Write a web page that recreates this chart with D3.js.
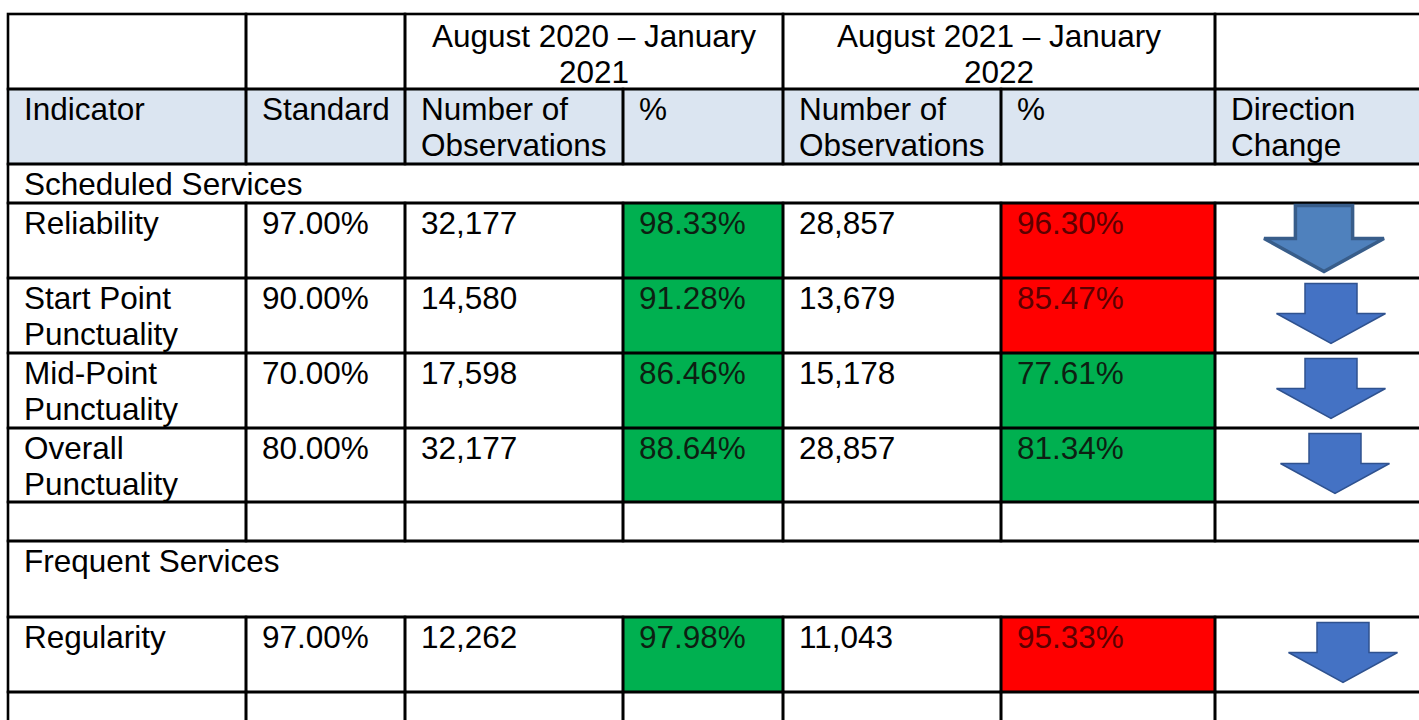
<!DOCTYPE html>
<html>
<head>
<meta charset="utf-8">
<script src="https://cdn.jsdelivr.net/npm/d3@7"></script>
<style>
  body { margin: 0; background: #fff; }
  svg { display: block; }
  text { font-family: "Liberation Sans", Arial, sans-serif; font-size: 31.5px; fill: #000; }
</style>
</head>
<body>
<div id="chart"></div>
<script>
// ---- data ----
var periods = ["August 2020 \u2013 January 2021", "August 2021 \u2013 January 2022"];
var columnHeads = ["Indicator", "Standard", "Number of Observations", "%", "Number of Observations", "%", "Direction Change"];
var sections = ["Scheduled Services", "Frequent Services"];
var indicators = ["Reliability", "Start Point Punctuality", "Mid-Point Punctuality", "Overall Punctuality", "Regularity"];
var indicatorSection = [0, 0, 0, 0, 1];
var standards = [97.0, 90.0, 70.0, 80.0, 97.0];
var obs2021 = [32177, 14580, 17598, 32177, 12262];
var pct2021 = [98.33, 91.28, 86.46, 88.64, 97.98];
var obs2022 = [28857, 13679, 15178, 28857, 11043];
var pct2022 = [96.30, 85.47, 77.61, 81.34, 95.33];
var direction = ["down", "down", "down", "down", "down"];

// ---- layout ----
var width = 1419, height = 720;
var colEdges = [8, 246, 405, 623, 783, 1001, 1215, 1432];
var rowHeights = [75, 75, 39, 75, 75, 75, 74, 39, 76, 75, 40];
var top0 = 14;
var pad = 16, lineGap = 36, firstBase = 31;
var passFill = "#00b050", failFill = "#ff0000", headFill = "#dbe5f1";
// arrow position inside the direction cell, and its look (the first one is drawn differently)
var arrowX = [109, 116, 116, 120, 128];
var arrowScale = [1.1, 1, 1, 1, 1];
var arrowLook = [
  { fill: "#4f81bd", stroke: "#385d8a", sw: 3.5 },
  { fill: "#4472c4", stroke: "#2f528f", sw: 1.5 }
];

var rowEdges = [top0];
rowHeights.forEach(function (h, i) { rowEdges.push(rowEdges[i] + h); });

// piecewise linear scales: column / row index -> pixel edge
var x = d3.scaleLinear().domain(d3.range(colEdges.length)).range(colEdges);
var y = d3.scaleLinear().domain(d3.range(rowEdges.length)).range(rowEdges);

var fmtInt = d3.format(",");
var fmtPct = function (v) { return v.toFixed(2) + "%"; };

// ---- build the cell list ----
var cells = [];
var arrows = [];
var r = 0;
// period row
cells.push({ r: r, c0: 0, c1: 1 });
cells.push({ r: r, c0: 1, c1: 2 });
periods.forEach(function (p, i) {
  cells.push({ r: r, c0: 2 + i * 2, c1: 4 + i * 2, text: p, align: "middle", base: 33 });
});
cells.push({ r: r, c0: 6, c1: 7 });
r++;
// column header row
columnHeads.forEach(function (h, i) {
  cells.push({ r: r, c0: i, c1: i + 1, text: h, fill: headFill });
});
r++;
sections.forEach(function (s, si) {
  cells.push({ r: r, c0: 0, c1: 7, text: s });
  r++;
  indicators.forEach(function (name, k) {
    if (indicatorSection[k] !== si) return;
    var ok1 = pct2021[k] >= standards[k], ok2 = pct2022[k] >= standards[k];
    cells.push({ r: r, c0: 0, c1: 1, text: name });
    cells.push({ r: r, c0: 1, c1: 2, text: fmtPct(standards[k]) });
    cells.push({ r: r, c0: 2, c1: 3, text: fmtInt(obs2021[k]) });
    cells.push({ r: r, c0: 3, c1: 4, text: fmtPct(pct2021[k]), fill: ok1 ? passFill : failFill, ink: ok1 ? "#0d1f12" : "#5c0000" });
    cells.push({ r: r, c0: 4, c1: 5, text: fmtInt(obs2022[k]) });
    cells.push({ r: r, c0: 5, c1: 6, text: fmtPct(pct2022[k]), fill: ok2 ? passFill : failFill, ink: ok2 ? "#0d1f12" : "#5c0000" });
    cells.push({ r: r, c0: 6, c1: 7 });
    arrows.push({ r: r, k: k, dir: direction[k] });
    r++;
  });
  for (var c = 0; c < 7; c++) cells.push({ r: r, c0: c, c1: c + 1 });
  r++;
});

// ---- draw ----
var svg = d3.select("#chart").append("svg")
  .attr("width", width).attr("height", height);

svg.append("rect").attr("width", width).attr("height", height).attr("fill", "#fff");

var g = svg.append("g");

g.selectAll("rect.cell")
  .data(cells)
  .join("rect")
  .attr("class", "cell")
  .attr("x", function (d) { return x(d.c0); })
  .attr("y", function (d) { return y(d.r); })
  .attr("width", function (d) { return x(d.c1) - x(d.c0); })
  .attr("height", function (d) { return y(d.r + 1) - y(d.r); })
  .attr("fill", function (d) { return d.fill || "none"; });

// word wrap inside the cell width
function wrap(sel) {
  sel.each(function (d) {
    var t = d3.select(this);
    var maxW = x(d.c1) - x(d.c0) - 2 * pad + (d.align === "middle" ? -8 : 6);
    var words = d.text.split(" ");
    var lines = [], line = [];
    var probe = t.append("tspan");
    words.forEach(function (w) {
      var test = line.concat([w]).join(" ");
      probe.text(test);
      if (line.length && probe.node().getComputedTextLength() > maxW) {
        lines.push(line.join(" "));
        line = [w];
      } else {
        line.push(w);
      }
    });
    lines.push(line.join(" "));
    probe.remove();
    var tx = d.align === "middle" ? (x(d.c0) + x(d.c1)) / 2 : x(d.c0) + pad;
    lines.forEach(function (l, i) {
      t.append("tspan")
        .attr("x", tx)
        .attr("y", y(d.r) + (d.base || firstBase) + i * lineGap)
        .text(l);
    });
  });
}

g.selectAll("text.cell")
  .data(cells.filter(function (d) { return d.text; }))
  .join("text")
  .attr("class", "cell")
  .attr("text-anchor", function (d) { return d.align === "middle" ? "middle" : "start"; })
  .style("fill", function (d) { return d.ink || "#000"; })
  .call(wrap);

// grid lines drawn on top of the fills
g.selectAll("rect.border")
  .data(cells)
  .join("rect")
  .attr("class", "border")
  .attr("x", function (d) { return x(d.c0); })
  .attr("y", function (d) { return y(d.r); })
  .attr("width", function (d) { return x(d.c1) - x(d.c0); })
  .attr("height", function (d) { return y(d.r + 1) - y(d.r); })
  .attr("fill", "none")
  .attr("stroke", "#000")
  .attr("stroke-width", 2.6);

// direction arrows
function arrowPath(s, dir) {
  var W = 109 * s, sw = 52 * s, hh = 30 * s, H = 60 * s;
  var sgn = dir === "down" ? 1 : -1;
  var y0 = -H / 2 * sgn, yh = (H / 2 - hh) * sgn, y1 = H / 2 * sgn;
  var p = d3.path();
  p.moveTo(-sw / 2, y0);
  p.lineTo(sw / 2, y0);
  p.lineTo(sw / 2, yh);
  p.lineTo(W / 2, yh);
  p.lineTo(0, y1);
  p.lineTo(-W / 2, yh);
  p.lineTo(-sw / 2, yh);
  p.closePath();
  return p.toString();
}

g.selectAll("path.arrow")
  .data(arrows)
  .join("path")
  .attr("class", "arrow")
  .attr("transform", function (d) {
    return "translate(" + (x(6) + arrowX[d.k]) + "," + (y(d.r) + 35.5) + ")";
  })
  .attr("d", function (d) { return arrowPath(arrowScale[d.k], d.dir); })
  .attr("fill", function (d) { return arrowLook[d.k === 0 ? 0 : 1].fill; })
  .attr("stroke", function (d) { return arrowLook[d.k === 0 ? 0 : 1].stroke; })
  .attr("stroke-width", function (d) { return arrowLook[d.k === 0 ? 0 : 1].sw; })
  .attr("stroke-linejoin", "miter");
</script>
</body>
</html>
